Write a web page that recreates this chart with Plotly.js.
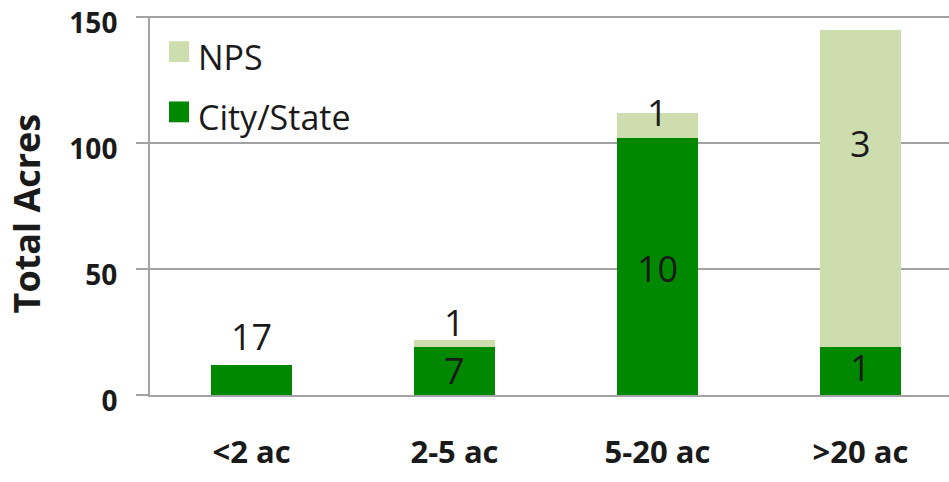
<!DOCTYPE html>
<html>
<head>
<meta charset="utf-8">
<script src="https://cdn.plot.ly/plotly-3.0.1.min.js"></script>
<style>
  html, body { margin: 0; padding: 0; background: #ffffff; }
  #chart { width: 949px; height: 482px; }
</style>
</head>
<body>
<div id="chart"></div>
<script>
// Park size classes along the x axis
const categories = ['<2 ac', '2-5 ac', '5-20 ac', '>20 ac'];

// Total acres per size class, split by managing agency
const cityStateAcres = [12, 19, 102, 19];
const npsAcres = [0, 3, 10, 126];

// Number of parks in each segment (printed on the bars)
const cityStateCounts = ['17', '7', '10', '1'];
const npsCounts = ['', '1', '1', '3'];

// Series names, top legend entry first
const seriesNames = ['NPS', 'City/State'];

// Y axis ticks
const yTickValues = [0, 50, 100, 150];
const yTickLabels = ['0', '50', '100', '150'];

const CITY_GREEN = 'rgb(0,137,0)';
const NPS_GREEN = 'rgb(205,221,174)';
const GRID = '#a3a3a3';
const TEXT = '#1a1a1a';
const FONT = '"Open Sans", "Liberation Sans", sans-serif';

const traces = [
  {
    type: 'bar', name: seriesNames[1], x: categories, y: cityStateAcres,
    marker: { color: CITY_GREEN }, showlegend: false, hoverinfo: 'skip'
  },
  {
    type: 'bar', name: seriesNames[0], x: categories, y: npsAcres,
    marker: { color: NPS_GREEN }, showlegend: false, hoverinfo: 'skip'
  }
];

// Count labels, anchored to the segment they describe
const labelFont = { family: FONT, size: 36, color: TEXT };
function countLabel(i, y, text, yshift) {
  return {
    x: categories[i], y: y, xref: 'x', yref: 'y', text: text,
    showarrow: false, yanchor: 'middle', xanchor: 'center',
    yshift: yshift, font: labelFont
  };
}
const annotations = [];
// <2 ac: count sits above the bar
annotations.push(countLabel(0, cityStateAcres[0], cityStateCounts[0], 28));
// 2-5 ac
annotations.push(countLabel(1, cityStateAcres[1] / 2, cityStateCounts[1], 1));
annotations.push(countLabel(1, cityStateAcres[1] + npsAcres[1], npsCounts[1], 17));
// 5-20 ac
annotations.push(countLabel(2, cityStateAcres[2] / 2, cityStateCounts[2], -2));
annotations.push(countLabel(2, cityStateAcres[2] + npsAcres[2], npsCounts[2], 0));
// >20 ac
annotations.push(countLabel(3, cityStateAcres[3] / 2, cityStateCounts[3], 4));
annotations.push(countLabel(3, cityStateAcres[3] + npsAcres[3] / 2, npsCounts[3], 45));

// Y axis title, rotated, left of the tick labels
annotations.push({
  xref: 'paper', yref: 'paper', x: -0.1552, y: 0.479,
  xanchor: 'center', yanchor: 'middle', textangle: -90,
  text: 'Total Acres', showarrow: false,
  font: { family: FONT, size: 36, color: TEXT, weight: 'bold' }
});

// Legend: large square swatches with their series names
const legendColors = [NPS_GREEN, CITY_GREEN];
const legendRows = [0.906, 0.747];      // swatch centres, paper units
const shapes = [];
seriesNames.forEach(function (name, k) {
  const yc = legendRows[k];
  shapes.push({
    type: 'rect', xref: 'paper', yref: 'paper',
    x0: 0.0238, x1: 0.0488, y0: yc - 0.0275, y1: yc + 0.0275,
    fillcolor: legendColors[k], line: { width: 0 }
  });
  annotations.push({
    xref: 'paper', yref: 'paper', x: 0.058, y: yc - 0.013,
    xanchor: 'left', yanchor: 'middle', text: name, showarrow: false,
    font: { family: FONT, size: 34, color: TEXT }
  });
});

const layout = {
  width: 949,
  height: 482,
  margin: { l: 150, r: 0, t: 16, b: 87, pad: 0 },
  paper_bgcolor: '#ffffff',
  plot_bgcolor: '#ffffff',
  barmode: 'stack',
  bargap: 0.6,
  showlegend: false,
  font: { family: FONT, color: TEXT },
  xaxis: {
    type: 'category',
    range: [-0.5, 3.436],
    showgrid: false,
    showline: true, linecolor: GRID, linewidth: 2,
    ticks: '',
    ticklabelstandoff: 29,
    tickfont: { family: FONT, size: 31, color: TEXT, weight: 'bold' },
    fixedrange: true
  },
  yaxis: {
    range: [0, 150.4],
    tickvals: yTickValues,
    ticktext: yTickLabels,
    showgrid: true, gridcolor: GRID, gridwidth: 1.5,
    showline: true, linecolor: GRID, linewidth: 2,
    ticks: 'outside', ticklen: 12, tickcolor: GRID, tickwidth: 1.5,
    ticklabelstandoff: 13,
    ticklabelshift: 6,
    ticklabeloverflow: 'allow',
    tickfont: { family: FONT, size: 28, color: TEXT, weight: 'bold' },
    zeroline: false,
    fixedrange: true
  },
  hovermode: false,
  shapes: shapes,
  annotations: annotations
};

Plotly.newPlot('chart', traces, layout, { displayModeBar: false, staticPlot: true });
</script>
</body>
</html>
